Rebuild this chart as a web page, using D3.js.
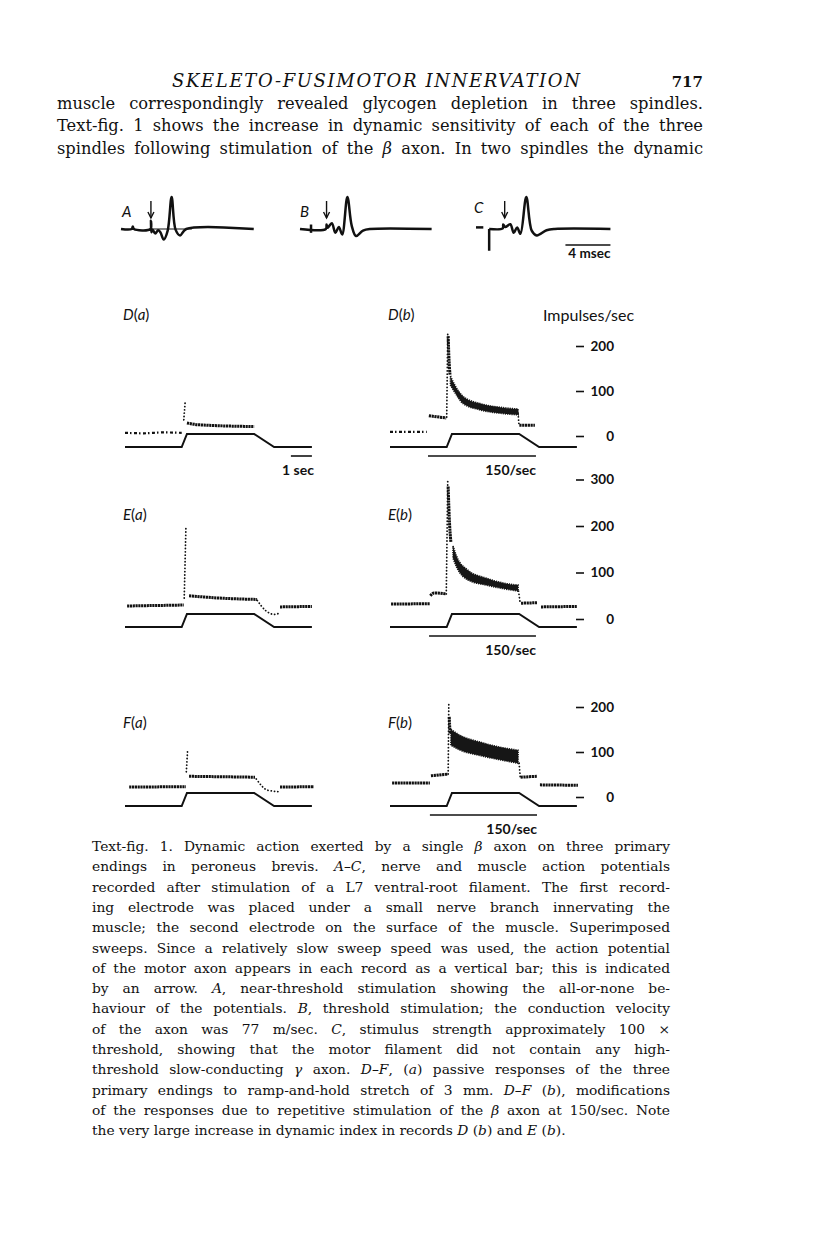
<!DOCTYPE html>
<html>
<head>
<meta charset="utf-8">
<script src="https://cdn.jsdelivr.net/npm/d3@7/dist/d3.min.js"></script>
<style>
  body { margin: 0; background: #fff; }
  svg text { fill: #111; }
</style>
</head>
<body>
<svg id="pagina" width="816" height="1234"></svg>
<script>
// ===== Texto de la página =====
const cabecera = "SKELETO-FUSIMOTOR INNERVATION";
const numeroPagina = "717";
const lineasCuerpo = [
  "muscle correspondingly revealed glycogen depletion in three spindles.",
  "Text-fig. 1 shows the increase in dynamic sensitivity of each of the three",
  "spindles following stimulation of the _β_ axon. In two spindles the dynamic"
];
const lineasPie = [
  "Text-fig. 1. Dynamic action exerted by a single _β_ axon on three primary",
  "endings in peroneus brevis. _A–C_, nerve and muscle action potentials",
  "recorded after stimulation of a L7 ventral-root filament. The first record-",
  "ing electrode was placed under a small nerve branch innervating the",
  "muscle; the second electrode on the surface of the muscle. Superimposed",
  "sweeps. Since a relatively slow sweep speed was used, the action potential",
  "of the motor axon appears in each record as a vertical bar; this is indicated",
  "by an arrow. _A_, near-threshold stimulation showing the all-or-none be-",
  "haviour of the potentials. _B_, threshold stimulation; the conduction velocity",
  "of the axon was 77 m/sec. _C_, stimulus strength approximately 100 ×",
  "threshold, showing that the motor filament did not contain any high-",
  "threshold slow-conducting _γ_ axon. _D–F_, (_a_) passive responses of the three",
  "primary endings to ramp-and-hold stretch of 3 mm. _D–F_ (_b_), modifications",
  "of the responses due to repetitive stimulation of the _β_ axon at 150/sec. Note",
  "the very large increase in dynamic index in records _D_ (_b_) and _E_ (_b_)."
];

// ===== A–C: potenciales de nervio y músculo (ms, amplitud relativa al pico) =====
const potencialA = [[0,0],[0.95,0],[1.05,0.08],[1.15,0],[2.62,0],[2.66,0.26],[2.7,-0.1],[2.8,-0.02],
  [3.05,-0.14],[3.3,-0.04],[3.5,-0.1],[3.8,-0.33],[4.15,-0.05],[4.5,1],[4.85,-0.02],[5.25,-0.2],[5.8,0],[11.8,0]];
const barridoA = [[2.62,0],[6.3,0]];            // barrido superpuesto sin respuesta
const potencialB = [[0,0],[2.3,0],[2.36,0.14],[2.45,0.04],[2.83,0.18],[3.14,-0.12],[3.45,0.06],[3.75,-0.17],
  [4.21,1],[4.6,0.1],[4.98,-0.22],[5.6,-0.05],[6.2,0],[11.7,0]];
const artefactoB = [[0.98,0.14],[0.98,-0.12]];
const potencialC = [[1.17,0],[2.38,0.02],[2.42,0.14],[2.6,0.06],[3.05,0.15],[3.35,-0.12],[3.65,0.05],[3.95,-0.15],
  [4.47,1],[4.95,-0.05],[5.4,-0.2],[6.27,-0.04],[7.0,0],[11.95,0]];
const artefactoC = [[1.17,-0.68],[1.17,0]];
const guionC = [[0,0.05],[0.65,0.05]];
const flechaMs = { A: 2.66, B: 2.36, C: 2.55 };
const escalaMs = [7.95, 11.95];                  // barra de 4 msec

// ===== D–F: estiramiento en rampa (s, mm) =====
const rampaTiempos = [0, 2.7, 2.95, 6.15, 7.1, 8.9];
const rampaLongitud = [0, 0, 3, 3, 0, 0];
const estimulo = { D: [1.81, 6.95], E: [1.86, 6.95], F: [1.9, 7.0] };   // tren a 150/sec
const escalaSeg = [7.9, 8.9];
const marcasFrecuencia = { D: [0, 100, 200], E: [0, 100, 200, 300], F: [0, 100, 200] };

// ===== Descarga (s, impulsos/s) =====
const descargaDa = [
  { tipo: "reposo", puntos: [[0,7],[0.9,6],[1.8,8],[2.7,7]] },
  { tipo: "pico",   puntos: [[2.8,36],[2.86,73]] },
  { tipo: "denso",  puntos: [[2.95,29],[3.5,25],[6.15,21]] }
];
const descargaDb = [
  { tipo: "reposo", puntos: [[0,9],[1.75,9]] },
  { tipo: "denso",  puntos: [[1.85,45],[2.68,40]] },
  { tipo: "pico",   puntos: [[2.7,42],[2.75,229]] },
  { tipo: "denso",  puntos: [[2.77,222],[2.81,170],[2.86,135]] },
  { tipo: "pico",   puntos: [[6.1,50],[6.14,26]] },
  { tipo: "denso",  puntos: [[6.16,24],[6.9,24]] }
];
const bandaDb = [[2.88,113,133],[3.1,96,112],[3.48,72,88],[4.29,58,72],[5.38,50,63],[6.1,47,60]];

const descargaEa = [
  { tipo: "denso", puntos: [[0.1,28],[2.8,30]] },
  { tipo: "pico",  puntos: [[2.82,45],[2.9,196]] },
  { tipo: "denso", puntos: [[3.05,50],[4.5,45],[6.29,42]] },
  { tipo: "pico",  puntos: [[6.3,40],[6.7,18],[7.1,10],[7.33,12]] },
  { tipo: "denso", puntos: [[7.38,26],[8.9,27]] }
];
const descargaEb = [
  { tipo: "denso", puntos: [[0.05,32],[1.9,33]] },
  { tipo: "denso", puntos: [[1.92,50],[2.1,56],[2.65,54]] },
  { tipo: "pico",  puntos: [[2.68,54],[2.75,299]] },
  { tipo: "denso", puntos: [[2.77,285],[2.82,220],[2.9,165]] },
  { tipo: "pico",  puntos: [[6.12,60],[6.2,34]] },
  { tipo: "denso", puntos: [[6.24,34],[7.0,35]] },
  { tipo: "denso", puntos: [[7.19,26],[8.9,27]] }
];
const bandaEb = [[3.0,131,157],[3.19,110,133],[3.71,84,105],[4.57,73,88],[5.43,65,77],[6.1,60,73]];

const descargaFa = [
  { tipo: "denso", puntos: [[0.2,22],[2.9,23]] },
  { tipo: "pico",  puntos: [[2.92,56],[2.98,104]] },
  { tipo: "denso", puntos: [[3.05,46],[6.19,44]] },
  { tipo: "pico",  puntos: [[6.25,40],[6.8,15],[7.33,12]] },
  { tipo: "denso", puntos: [[7.38,22],[9.0,23]] }
];
const descargaFb = [
  { tipo: "denso", puntos: [[0.1,31],[1.9,31]] },
  { tipo: "denso", puntos: [[1.95,47],[2.76,51]] },
  { tipo: "pico",  puntos: [[2.77,51],[2.8,209]] },
  { tipo: "denso", puntos: [[2.82,178],[2.86,140]] },
  { tipo: "pico",  puntos: [[6.15,75],[6.2,44]] },
  { tipo: "denso", puntos: [[6.22,44],[7.0,46]] },
  { tipo: "denso", puntos: [[7.14,27],[8.95,26]] }
];
const bandaFb = [[2.9,115,150],[3.3,105,138],[4.29,92,122],[5.1,84,112],[6.1,75,104]];

// ===== Estilos de trazo =====
const estilos = {
  reposo: { ancho: 2.2, guiones: "3 2 1.5 2.5", cap: "butt" },
  denso:  { ancho: 3,   guiones: "2.2 0.6",     cap: "butt" },
  pico:   { ancho: 1.8, guiones: "0.1 3.2",     cap: "round" }
};
const serif = "'DejaVu Serif', serif";
const sans = "Lato, 'Open Sans', sans-serif";

const svg = d3.select("#pagina");

// Escribe una línea palabra a palabra, justificada si hace falta
function escribirLinea(capa, texto, x, y, ancho, justificar, tam) {
  const palabras = texto.split(" ");
  const nodos = palabras.map(function (p) {
    const t = capa.append("text").attr("x", 0).attr("y", y)
      .style("font-family", serif).style("font-size", tam + "px");
    p.split("_").forEach(function (trozo, i) {
      if (trozo === "") return;
      t.append("tspan").text(trozo).style("font-style", i % 2 ? "italic" : "normal");
    });
    return t;
  });
  const anchos = nodos.map(n => n.node().getComputedTextLength());
  const hueco = justificar ? (ancho - d3.sum(anchos)) / (palabras.length - 1) : tam * 0.32;
  let pos = x;
  nodos.forEach(function (n, i) { n.attr("x", pos); pos += anchos[i] + hueco; });
}

// Cabecera
svg.append("text").attr("x", 172).attr("y", 87)
  .attr("textLength", 408).attr("lengthAdjust", "spacing")
  .style("font-family", serif).style("font-style", "italic").style("font-size", "18px")
  .text(cabecera);
svg.append("text").attr("x", 703).attr("y", 87).attr("text-anchor", "end")
  .style("font-family", serif).style("font-weight", "bold").style("font-size", "15px")
  .text(numeroPagina);

const cuerpo = svg.append("g");
lineasCuerpo.forEach(function (l, i) {
  escribirLinea(cuerpo, l, 57, 109 + i * 22.3, 646, true, 16.3);
});

const pie = svg.append("g");
lineasPie.forEach(function (l, i) {
  escribirLinea(pie, l, 92, 851 + i * 20.3, 578, i < lineasPie.length - 1, 13.8);
});

// ===== A–C =====
const pxMs = 11.25;
const trazos = [
  { id: "A", x0: 121, segs: [potencialA], finos: [barridoA], etiquetaX: 122, etiquetaY: 217 },
  { id: "B", x0: 300, segs: [potencialB, artefactoB], finos: [], etiquetaX: 300, etiquetaY: 217 },
  { id: "C", x0: 476, segs: [guionC, artefactoC, potencialC], finos: [], etiquetaX: 474, etiquetaY: 213 }
];
const baseAC = 229;
const yAC = d3.scaleLinear().domain([-1, 1]).range([baseAC + 32, baseAC - 32]);

trazos.forEach(function (t) {
  const x = d3.scaleLinear().domain([0, 1]).range([t.x0, t.x0 + pxMs]);
  const linea = d3.line().x(d => x(d[0])).y(d => yAC(d[1])).curve(d3.curveCatmullRom.alpha(0.5));
  const g = svg.append("g");
  g.selectAll(null).data(t.segs).join("path")
    .attr("d", linea).attr("fill", "none").attr("stroke", "#111")
    .attr("stroke-width", 2.5).attr("stroke-linejoin", "round");
  g.selectAll(null).data(t.finos).join("path")
    .attr("d", linea).attr("fill", "none").attr("stroke", "#111").attr("stroke-width", 1);
  // flecha
  const xf = x(flechaMs[t.id]);
  g.append("line").attr("x1", xf).attr("x2", xf).attr("y1", baseAC - 28).attr("y2", baseAC - 11)
    .attr("stroke", "#111").attr("stroke-width", 1.4);
  g.append("path").attr("d", `M${xf - 3},${baseAC - 17}L${xf},${baseAC - 11}L${xf + 3},${baseAC - 17}`)
    .attr("fill", "none").attr("stroke", "#111").attr("stroke-width", 1.4);
  g.append("text").attr("x", t.etiquetaX).attr("y", t.etiquetaY)
    .style("font-family", sans).style("font-style", "italic").style("font-size", "15px")
    .text(t.id);
  if (t.id === "C") {
    g.append("line").attr("x1", x(escalaMs[0])).attr("x2", x(escalaMs[1]))
      .attr("y1", 245).attr("y2", 245).attr("stroke", "#111").attr("stroke-width", 1.6);
    g.append("text").attr("x", x(escalaMs[1])).attr("y", 258).attr("text-anchor", "end")
      .style("font-family", sans).style("font-weight", "bold").style("font-size", "13.5px")
      .text("4 msec");
  }
});

// ===== D–F =====
const pxSeg = 21;
const filas = [
  { id: "D", cero: 436, px100: 45,   base: 447, etiquetaY: 320, a: descargaDa, b: descargaDb, banda: bandaDb },
  { id: "E", cero: 619, px100: 46.5, base: 627, etiquetaY: 520, a: descargaEa, b: descargaEb, banda: bandaEb },
  { id: "F", cero: 797, px100: 45,   base: 806, etiquetaY: 728, a: descargaFa, b: descargaFb, banda: bandaFb }
];

svg.append("text").attr("x", 543).attr("y", 321)
  .style("font-family", sans).style("font-size", "16px").text("Impulses/sec");

filas.forEach(function (f) {
  const y = d3.scaleLinear().domain([0, 100]).range([f.cero, f.cero - f.px100]);
  const yLong = d3.scaleLinear().domain([0, 3]).range([f.base, f.base - 13]);

  ["a", "b"].forEach(function (col) {
    const x0 = col === "a" ? 125 : 390;
    const x = d3.scaleLinear().domain([0, 1]).range([x0, x0 + pxSeg]);
    const g = svg.append("g");

    // longitud del músculo
    g.append("path").datum(d3.zip(rampaTiempos, rampaLongitud))
      .attr("d", d3.line().x(d => x(d[0])).y(d => yLong(d[1])))
      .attr("fill", "none").attr("stroke", "#111").attr("stroke-width", 2);

    // frecuencia instantánea
    const linea = d3.line().x(d => x(d[0])).y(d => y(d[1])).curve(d3.curveMonotoneX);
    g.selectAll(null).data(col === "a" ? f.a : f.b).join("path")
      .attr("d", s => linea(s.puntos))
      .attr("fill", "none").attr("stroke", "#111")
      .attr("stroke-width", s => estilos[s.tipo].ancho)
      .attr("stroke-dasharray", s => estilos[s.tipo].guiones)
      .attr("stroke-linecap", s => estilos[s.tipo].cap);

    if (col === "b") {
      const area = d3.area().x(d => x(d[0])).y0(d => y(d[1])).y1(d => y(d[2])).curve(d3.curveMonotoneX);
      g.append("path").datum(f.banda).attr("d", area)
        .attr("fill", "#161616").attr("stroke", "#161616").attr("stroke-width", 1.6)
        .attr("stroke-dasharray", "1.2 1");
      // tren de estímulos a 150/sec
      const est = estimulo[f.id];
      g.append("line").attr("x1", x(est[0])).attr("x2", x(est[1]))
        .attr("y1", f.base + 9).attr("y2", f.base + 9)
        .attr("stroke", "#111").attr("stroke-width", 1.4);
      g.append("text").attr("x", x(est[1])).attr("y", f.base + 28).attr("text-anchor", "end")
        .style("font-family", sans).style("font-weight", "bold").style("font-size", "14px")
        .text("150/sec");
    }
    if (col === "a" && f.id === "D") {
      g.append("line").attr("x1", x(escalaSeg[0])).attr("x2", x(escalaSeg[1]))
        .attr("y1", f.base + 9).attr("y2", f.base + 9)
        .attr("stroke", "#111").attr("stroke-width", 1.6);
      g.append("text").attr("x", x(escalaSeg[1]) + 2).attr("y", f.base + 28).attr("text-anchor", "end")
        .style("font-family", sans).style("font-weight", "bold").style("font-size", "14px")
        .text("1 sec");
    }

    // etiqueta del registro
    const et = g.append("text").attr("x", x0 - 2).attr("y", f.etiquetaY)
      .style("font-family", sans).style("font-size", "15px");
    et.append("tspan").style("font-style", "italic").text(f.id);
    et.append("tspan").text("(");
    et.append("tspan").style("font-style", "italic").text(col);
    et.append("tspan").text(")");
  });

  // eje de impulsos/s
  const eje = svg.append("g").attr("transform", "translate(576,0)")
    .call(d3.axisRight(y).tickValues(marcasFrecuencia[f.id]).tickSize(8));
  eje.select(".domain").remove();
  eje.selectAll(".tick line").attr("stroke", "#111").attr("stroke-width", 1.6);
  eje.selectAll(".tick text").attr("x", 38).attr("text-anchor", "end")
    .attr("fill", "#111")
    .style("font-family", sans).style("font-weight", "bold").style("font-size", "13.5px");
});
</script>
</body>
</html>
